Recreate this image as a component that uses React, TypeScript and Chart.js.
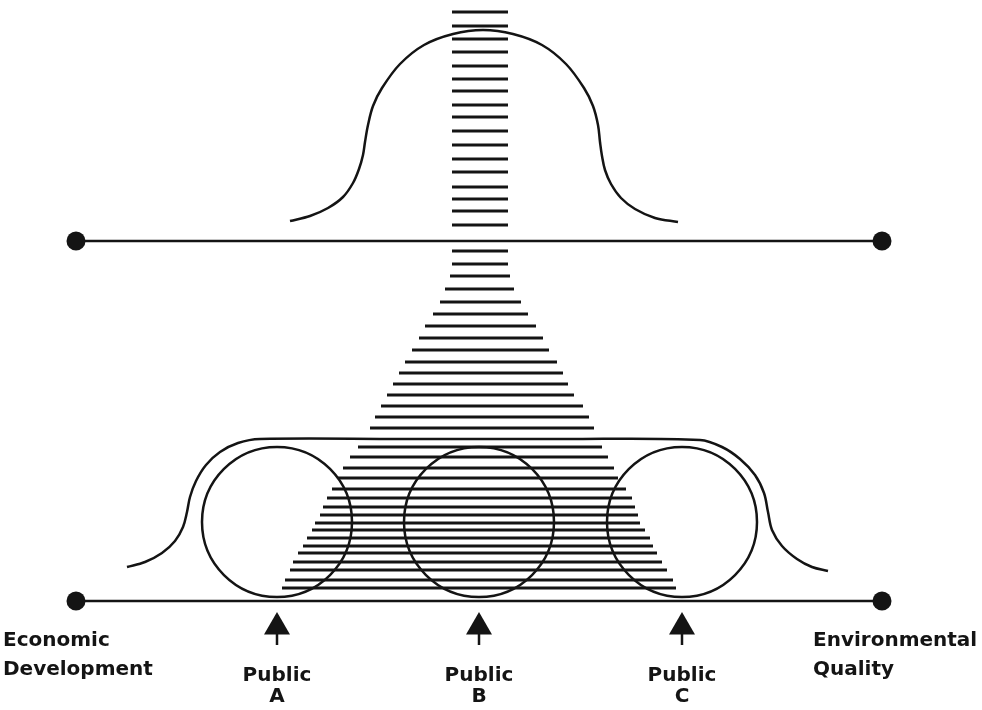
import React, { useEffect, useRef } from "react";
import { Chart, registerables } from "chart.js";

Chart.register(...registerables);

// ---- Diagram data (diagram units; x: left→right, y: top→bottom) ----
const poleX = [76, 882];
const axisY = [241, 601];

const upperCurveX = [290, 310, 328, 343, 353, 359, 363, 365, 368, 373, 382, 400, 424, 453, 483, 513, 542, 566, 584, 593, 598, 600, 602, 605, 611, 621, 635, 655, 678];
const upperCurveY = [221, 216, 208, 197, 183, 169, 155, 142, 125, 106, 88, 64, 45, 34, 30, 34, 45, 64, 88, 106, 125, 142, 156, 170, 184, 198, 209, 218, 222];

const lowerCurveX = [127, 145, 162, 175, 183, 187, 190, 196, 206, 220, 238, 260, 400, 560, 700, 722, 740, 755, 764, 768, 772, 782, 797, 812, 828];
const lowerCurveY = [567, 562, 553, 541, 527, 512, 497, 481, 465, 452, 443, 439, 439, 439, 440, 447, 459, 475, 493, 512, 530, 546, 559, 567, 571];

const publicX = [277, 479, 682];
const publicCircleY = 522;
const publicArrowY = 627;
const publicStemY = [630, 645];
const publicNames = ["A", "B", "C"];
const publicWord = "Public";

const hatchY = [12, 26, 39, 52, 66, 79, 91, 105, 117, 131, 145, 159, 172, 187, 199, 211, 225, 251, 264, 276,
  289, 302, 314, 326, 338, 350, 362, 373, 384, 395, 406, 417, 428,
  447, 457, 468, 478, 489, 498, 507, 515, 523, 530, 538, 546, 553, 562, 570, 580, 588];
const hatchLeft = [452, 452, 452, 452, 452, 452, 452, 452, 452, 452, 452, 452, 452, 452, 452, 452, 452, 452, 452, 450,
  445, 440, 433, 425, 419, 412, 405, 399, 393, 387, 381, 375, 370,
  358, 350, 343, 338, 332, 327, 323, 320, 315, 312, 307, 303, 298, 293, 290, 285, 282];
const hatchRight = [508, 508, 508, 508, 508, 508, 508, 508, 508, 508, 508, 508, 508, 508, 508, 508, 508, 508, 508, 510,
  514, 521, 528, 536, 543, 549, 557, 563, 568, 574, 583, 589, 594,
  602, 608, 614, 618, 626, 632, 635, 638, 640, 645, 650, 653, 657, 662, 667, 673, 676];

const poleLabels = [["Economic", "Development"], ["Environmental", "Quality"]];
const poleLabelX = [3, 813];
const poleLabelY = [646, 675];
const publicLabelY = [681, 702];

const INK = "#141414";

export default function App() {
  const ref = useRef<HTMLCanvasElement | null>(null);

  useEffect(() => {
    const canvas = ref.current;
    if (!canvas) return;

    const axisDatasets = axisY.map((y) => ({
      type: "scatter" as const,
      data: poleX.map((x) => ({ x, y })),
      showLine: true,
      borderColor: INK,
      borderWidth: 2.5,
      pointRadius: 9.5,
      pointBackgroundColor: INK,
      pointBorderColor: INK,
      pointBorderWidth: 0,
    }));

    const curve = (xs: number[], ys: number[]) => ({
      type: "scatter" as const,
      data: xs.map((x, i) => ({ x, y: ys[i] })),
      showLine: true,
      borderColor: INK,
      borderWidth: 2.5,
      pointRadius: 0,
      tension: 0.35,
    });

    const hatchData: any[] = [];
    hatchY.forEach((y, i) => {
      hatchData.push({ x: hatchLeft[i], y });
      hatchData.push({ x: hatchRight[i], y });
      hatchData.push({ x: hatchRight[i], y: null });
    });

    const stemData: any[] = [];
    publicX.forEach((x) => {
      stemData.push({ x, y: publicStemY[0] });
      stemData.push({ x, y: publicStemY[1] });
      stemData.push({ x, y: null });
    });

    const labelPlugin = {
      id: "diagramLabels",
      afterDraw(chart: any) {
        const { ctx, scales } = chart;
        const sx = scales.x;
        const sy = scales.y;
        ctx.save();
        ctx.fillStyle = INK;
        ctx.font = "bold 20px 'DejaVu Sans', sans-serif";
        ctx.textBaseline = "alphabetic";
        ctx.textAlign = "left";
        poleLabels.forEach((lines, i) => {
          lines.forEach((t, j) => {
            ctx.fillText(t, sx.getPixelForValue(poleLabelX[i]), sy.getPixelForValue(poleLabelY[j]));
          });
        });
        ctx.textAlign = "center";
        publicX.forEach((x, i) => {
          const px = sx.getPixelForValue(x);
          ctx.fillText(publicWord, px, sy.getPixelForValue(publicLabelY[0]));
          ctx.fillText(publicNames[i], px, sy.getPixelForValue(publicLabelY[1]));
        });
        ctx.restore();
      },
    };

    const chart = new Chart(canvas, {
      type: "scatter",
      data: {
        datasets: [
          {
            type: "scatter",
            data: hatchData,
            showLine: true,
            spanGaps: false,
            borderColor: INK,
            borderWidth: 3,
            pointRadius: 0,
            tension: 0,
          } as any,
          ...axisDatasets,
          curve(upperCurveX, upperCurveY),
          curve(lowerCurveX, lowerCurveY),
          {
            type: "scatter",
            data: publicX.map((x) => ({ x, y: publicCircleY })),
            pointRadius: 75,
            pointBackgroundColor: "rgba(0,0,0,0)",
            pointBorderColor: INK,
            pointBorderWidth: 2.5,
          },
          {
            type: "scatter",
            data: publicX.map((x) => ({ x, y: publicArrowY })),
            pointStyle: "triangle",
            pointRadius: 15,
            pointBackgroundColor: INK,
            pointBorderColor: INK,
            pointBorderWidth: 0,
          },
          {
            type: "scatter",
            data: stemData,
            showLine: true,
            spanGaps: false,
            borderColor: INK,
            borderWidth: 2.5,
            pointRadius: 0,
          } as any,
        ],
      },
      options: {
        animation: false,
        responsive: false,
        devicePixelRatio: 1,
        layout: { padding: 0, autoPadding: false },
        events: [],
        clip: false,
        plugins: {
          legend: { display: false },
          tooltip: { enabled: false },
          title: { display: false },
        },
        scales: {
          x: { type: "linear", min: 0, max: 982, display: false },
          y: { type: "linear", min: 0, max: 710, reverse: true, display: false },
        },
        elements: { point: { hoverRadius: 0 } },
      } as any,
      plugins: [labelPlugin],
    });

    return () => chart.destroy();
  }, []);

  return (
    <div style={{ position: "fixed", left: 0, top: 0, width: 982, height: 710, background: "#fff" }}>
      <canvas ref={ref} width={982} height={710} style={{ display: "block" }} />
    </div>
  );
}
